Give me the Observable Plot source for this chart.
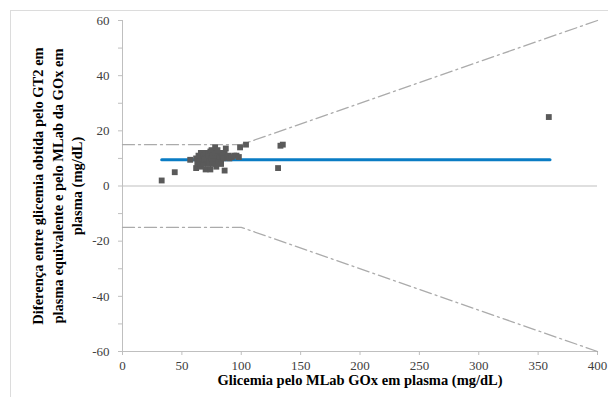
<!DOCTYPE html>
<html><head><meta charset="utf-8">
<script src="https://cdn.jsdelivr.net/npm/d3@7"></script>
<script src="https://cdn.jsdelivr.net/npm/@observablehq/plot@0.6"></script>
<style>
body{margin:0;background:#fff;}
#wrap{position:relative;width:608px;height:397px;overflow:hidden;}
#chart{position:absolute;left:0;top:0;}
#border{position:absolute;left:10px;top:10px;width:640px;height:420px;border:1px solid #dcdcdc;pointer-events:none;}
</style></head><body>
<div id="wrap"><div id="chart"></div><div id="border"></div></div>
<script>
// Data (Bland-Altman style difference plot)
const glicemiaMLab = [33,44,57,62,62,63,64,65,66,66,67,68,68,69,70,70,71,72,72,73,74,74,75,75,76,76,77,78,78,79,79,80,80,81,82,83,83,84,85,86,86,87,88,89,90,92,94,96,98,99,104,131,133,135,359];
const diferenca    = [2,5,9.5,10,6.5,8,11,9,12,7,10,8,11,9.5,12,6,10,8,11.5,9,6,12.5,10,13,8,11,9,12,14,10,7,11,13,9,10.5,8,12,11,10,5.6,12,13.6,10.5,11,10,10.5,11,11,10.5,14,15,6.5,14.6,15,25];
const meanBias = 9.5;
const meanRangeX = [33, 360];
const limitX = [0, 100, 400];
const upperLimit = [15, 15, 60];
const lowerLimit = [-15, -15, -60];
const xTicks = [0, 50, 100, 150, 200, 250, 300, 350, 400];
const yTicks = [-60, -40, -20, 0, 20, 40, 60];
const yMinorTicks = [-50, -30, -10, 10, 30, 50];
const xTitle = "Glicemia pelo MLab GOx em plasma (mg/dL)";
const yTitleLines = ["Diferença entre glicemia obtida pelo GT2 em", "plasma equivalente e pelo MLab da GOx em", "plasma (mg/dL)"];

const points = glicemiaMLab.map((x, i) => ({x, y: diferenca[i]}));
const upper = limitX.map((x, i) => ({x, y: upperLimit[i]}));
const lower = limitX.map((x, i) => ({x, y: lowerLimit[i]}));
const mean = meanRangeX.map(x => ({x, y: meanBias}));

const serif = "'Liberation Serif', 'Times New Roman', serif";
const axisColor = "#bfbfbf";
const textColor = "#404040";
const fmt = d => String(d);

const chart = Plot.plot({
  width: 608,
  height: 397,
  marginLeft: 122,
  marginRight: 11,
  marginTop: 20,
  marginBottom: 46,
  style: {fontFamily: serif, fontSize: "13px", color: textColor, background: "transparent"},
  x: {domain: [0, 400]},
  y: {domain: [-60, 60]},
  marks: [
    Plot.ruleY([0], {stroke: axisColor, strokeWidth: 1}),
    Plot.ruleY([-60], {stroke: axisColor, strokeWidth: 1}),
    Plot.ruleX([0], {stroke: axisColor, strokeWidth: 1}),
    Plot.axisX({ticks: xTicks, tickSize: 4, tickPadding: 5, tickFormat: fmt, stroke: axisColor, fill: textColor, label: null, fontFamily: serif, fontSize: 13}),
    Plot.axisY({ticks: yTicks, tickSize: 4, tickPadding: 9, tickFormat: fmt, stroke: axisColor, fill: textColor, label: null, fontFamily: serif, fontSize: 13}),
    Plot.axisY({ticks: yMinorTicks, tickSize: 4, tickFormat: () => "", stroke: axisColor, label: null}),
    Plot.line(upper, {x: "x", y: "y", stroke: "#ababab", strokeWidth: 1.3, strokeDasharray: "12,4,2,4"}),
    Plot.line(lower, {x: "x", y: "y", stroke: "#ababab", strokeWidth: 1.3, strokeDasharray: "12,4,2,4"}),
    Plot.line(mean, {x: "x", y: "y", stroke: "#0a7cc4", strokeWidth: 3}),
    Plot.dot(points, {x: "x", y: "y", symbol: "square", r: 3.3, fill: "#5a5a5a", stroke: "none"}),
    Plot.text([xTitle], {frameAnchor: "bottom", dy: 33, text: d => d, fontWeight: "bold", fontSize: 14.5, fill: "#000", fontFamily: serif}),
    Plot.text([yTitleLines.join("\n")], {frameAnchor: "left", dx: -66, rotate: -90, text: d => d, fontWeight: "bold", fontSize: 14.5, lineHeight: 1.35, fill: "#000", textAnchor: "middle", fontFamily: serif})
  ]
});
document.getElementById("chart").append(chart);
</script>
</body></html>
